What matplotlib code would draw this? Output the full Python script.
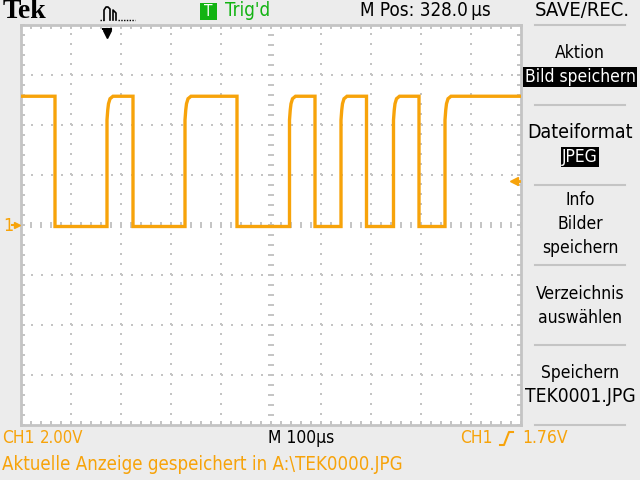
import numpy as np
import matplotlib
matplotlib.use("Agg")
import matplotlib.pyplot as plt
from matplotlib.lines import Line2D
from matplotlib.patches import Rectangle

plt.rcParams['lines.scale_dashes'] = False

# ---------------- data ----------------
# time axis: 0 .. 1000 us across the screen (100 us/div), volts: 2 V/div
fall_times_us = [68, 224, 432, 588, 691, 796]
rise_times_us = [172, 328, 537, 640, 745, 848]
high_v = 5.15
low_v = -0.06
# shape of each rising edge (offset in us, volts)
rise_dt_us = [0.0, 0.0, 1.5, 3.0, 6.0, 12.0]
rise_v = [-0.06, 4.2, 4.6, 4.85, 5.05, 5.15]
trigger_level_v = 1.76
trigger_time_us = 172

menu_items = ["Aktion", "Bild speichern", "Dateiformat", "JPEG", "Info", "Bilder",
              "speichern", "Verzeichnis", "auswählen", "Speichern", "TEK0001.JPG"]

# ---------------- build trace ----------------
t = [0.0]
v = [high_v]
events = sorted([(tt, 'f') for tt in fall_times_us] + [(tt, 'r') for tt in rise_times_us])
for tt, kind in events:
    if kind == 'f':
        t += [tt, tt]
        v += [high_v, low_v]
    else:
        t += [tt + d for d in rise_dt_us]
        v += list(rise_v)
t.append(1000.0)
v.append(v[-1])

# ---------------- figure ----------------
W, H = 640, 480
fig = plt.figure(figsize=(6.4, 4.8), dpi=100)
fig.patch.set_facecolor('#ececec')
FAM = ['DejaVu Sans']
ST = 'condensed'
FS = 12.5
ORANGE = '#f7a30a'
GREEN = '#12b312'
GRAY = '#c4c4c4'

def fx(x):
    return x / W

def fy(y):
    return 1 - y / H

def txt(x, y, s, color='black', ha='left', size=FS, **kw):
    return fig.text(fx(x), fy(y), s, color=color, fontsize=size, family=FAM, stretch=ST,
                    va='center', ha=ha, **kw)

ax = fig.add_axes([fx(21), fy(425), 500 / W, 400 / H])
ax.set_facecolor('white')
ax.set_xlim(0, 1000)
ax.set_ylim(-8, 8)
for s in ax.spines.values():
    s.set_color(GRAY)
    s.set_linewidth(2)
ax.set_xticks(np.arange(0, 1001, 20))
ax.set_yticks(np.arange(-8, 8.01, 0.4))
ax.tick_params(direction='in', length=3, width=1.4, color=GRAY,
               top=True, right=True, labelbottom=False, labelleft=False)

# dotted grid
for gx in np.arange(100, 1000, 100):
    if gx != 500:
        ax.axvline(gx, color=GRAY, lw=1.44, dashes=(1.44, 5.76), zorder=1)
for gy in np.arange(-6, 7, 2):
    if gy != 0:
        ax.axhline(gy, color=GRAY, lw=1.44, dashes=(1.44, 5.76), zorder=1)
# centre cross with tick marks
cx = np.arange(0, 1001, 20)
ax.plot(cx, np.zeros_like(cx, dtype=float), ls='none', marker='|', ms=4, mew=1.4, color=GRAY, zorder=1)
cy = np.arange(-8, 8.01, 0.4)
ax.plot(np.full_like(cy, 500.0), cy, ls='none', marker='_', ms=4, mew=1.4, color=GRAY, zorder=1)

# signal
ax.plot(t, v, color=ORANGE, lw=2.4, solid_joinstyle='miter', zorder=3)

# trigger level arrow on right
ax.plot([985], [trigger_level_v], marker='<', ms=6, color=ORANGE, clip_on=False, zorder=4)
ax.plot([985, 995], [trigger_level_v] * 2, color=ORANGE, lw=2, clip_on=False, zorder=4)

# ground marker "1>"
txt(3, 226, "1", color=ORANGE, size=13)
fig.add_artist(Line2D([fx(12), fx(16)], [fy(225), fy(225)], color=ORANGE, lw=1.5))
fig.add_artist(Line2D([fx(17)], [fy(225)], marker='>', ms=5, color=ORANGE, ls='none'))

# trigger position marker at top
fig.add_artist(Line2D([fx(103), fx(111)], [fy(29), fy(29)], color='black', lw=1.5))
fig.add_artist(Line2D([fx(107), fx(107)], [fy(29), fy(33)], color='black', lw=1.5))
fig.add_artist(Line2D([fx(107)], [fy(34)], marker='v', ms=6, color='black', ls='none'))

# ---------------- top bar ----------------
fig.text(fx(3), fy(12), "Tek", family=['Liberation Serif', 'DejaVu Serif'], fontweight='bold',
         fontsize=20, va='center', ha='left', color='black')
# pulse icon
fig.add_artist(Line2D([fx(100), fx(104)], [fy(20), fy(20)], color='black', lw=1, ls=(0, (1, 1))))
fig.add_artist(Line2D([fx(104), fx(104), fx(106), fx(108), fx(110), fx(110)],
                      [fy(20), fy(10), fy(7), fy(7), fy(9), fy(20)], color='black', lw=1.2))
fig.add_artist(Line2D([fx(113), fx(113), fx(116), fx(116)], [fy(20), fy(10), fy(13), fy(20)],
                      color='black', lw=1.2))
fig.add_artist(Line2D([fx(118), fx(135)], [fy(20), fy(20)], color='black', lw=1, ls=(0, (1, 1))))

fig.add_artist(Rectangle((fx(200), fy(20)), 17 / W, 17 / H, transform=fig.transFigure,
                         facecolor=GREEN, edgecolor='none'))
txt(208.5, 11.5, "T", color='white', ha='center', size=11)
txt(225, 11, "Trig'd", color=GREEN, size=13.5)
txt(360, 11, "M Pos: 328.0\u2009\u00b5s", size=13.5)
txt(582, 11, "SAVE/REC.", ha='center', size=14.5)
fig.add_artist(Line2D([fx(535), fx(625)], [fy(25), fy(25)], color=GRAY, lw=1.5))

# ---------------- right menu ----------------
menu_y = [53, 77, 133, 157, 200, 224, 248, 294, 318, 373, 397]
menu_size = [12.5, 12.5, 14, 12.5, 12.5, 12.5, 12.5, 12.5, 12.5, 12.5, 13.8]
highlighted = {"Bild speichern", "JPEG"}
for label, y, sz in zip(menu_items, menu_y, menu_size):
    if label in highlighted:
        txt(580, y, label, color='white', ha='center', size=sz,
            bbox=dict(facecolor='black', edgecolor='none', pad=1.0))
    else:
        txt(580, y, label, ha='center', size=sz)
for y in [105, 185, 265, 345, 425]:
    fig.add_artist(Line2D([fx(535), fx(625)], [fy(y), fy(y)], color=GRAY, lw=1.5))

# ---------------- bottom bar ----------------
txt(2, 438, "CH1", color=ORANGE)
txt(40, 438, "2.00V", color=ORANGE, size=12)
txt(268, 438, "M 100\u00b5s")
txt(460, 438, "CH1", color=ORANGE)
fig.add_artist(Line2D([fx(500), fx(504), fx(509), fx(513)], [fy(445), fy(445), fy(432), fy(432)],
                      color=ORANGE, lw=1.5))
txt(522, 438, "1.76V", color=ORANGE)
txt(2, 465, "Aktuelle Anzeige gespeichert in A:\\TEK0000.JPG", color=ORANGE, size=13.4)

fig.savefig("out.png", dpi=100, facecolor=fig.get_facecolor())
